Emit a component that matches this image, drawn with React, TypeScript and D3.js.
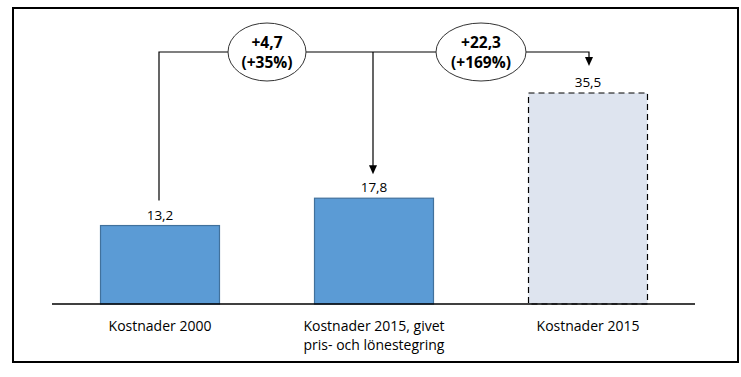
import React from "react";
import * as d3 from "d3";

const categories = ["Kostnader 2000", "Kostnader 2015, givet\npris- och lönestegring", "Kostnader 2015"];
const values = [13.2, 17.8, 35.5];
const valueLabels = ["13,2", "17,8", "35,5"];
const changeLabels = [["+4,7", "(+35%)"], ["+22,3", "(+169%)"]];

const W = 741;
const H = 377;

export default function App() {
  const x = d3.scaleBand<string>().domain(categories).range([53, 695]).paddingInner(0.444).paddingOuter(0.222);
  const y = d3.scaleLinear().domain([0, 35.5]).range([304, 93]);
  const cx = (i: number) => (x(categories[i]) as number) + x.bandwidth() / 2;
  const lineY = 52;
  const font = "'Open Sans', sans-serif";

  const c0 = cx(0) - 1, c1 = cx(1) - 1, c2 = cx(2) + 1;
  const tip1 = y(values[1]) - 24;
  const tip2 = y(values[2]) - 27;
  const start0 = y(values[0]) - 25;
  const ell = [
    { cx: 267, rx: 39 },
    { cx: 481, rx: 45 },
  ];

  return (
    <svg width={W} height={H} style={{ position: "absolute", left: 0, top: 0, background: "#fff" }} fontFamily={font}>
      <rect x={13} y={8} width={725} height={354} fill="#fff" stroke="#000" strokeWidth={2} />
      {values.map((v, i) => (
        <rect
          key={i}
          x={x(categories[i]) as number}
          y={y(v)}
          width={x.bandwidth()}
          height={y(0) - y(v)}
          fill={i < 2 ? "#5B9BD5" : "#DEE4EF"}
          stroke={i < 2 ? "#41719C" : "#000"}
          strokeWidth={1.2}
          strokeDasharray={i < 2 ? undefined : "6,4"}
        />
      ))}
      <line x1={52} x2={695} y1={y(0)} y2={y(0)} stroke="#000" strokeWidth={1.5} />
      {values.map((v, i) => (
        <text key={i} x={cx(i)} y={y(v) - 6} textAnchor="middle" fontSize={13.5} fill="#000">
          {valueLabels[i]}
        </text>
      ))}
      {categories.map((c, i) =>
        c.split("\n").map((ln, j) => (
          <text key={i + "-" + j} x={cx(i)} y={331 + j * 19} textAnchor="middle" fontSize={14} fill="#000">
            {ln}
          </text>
        ))
      )}
      <path
        d={`M${c0},${start0} V${lineY} H${c1} V${tip1 - 8} M${c1},${lineY} H${c2} V${tip2 - 8}`}
        fill="none"
        stroke="#000"
        strokeWidth={1.2}
      />
      <path d={`M${c1 - 4},${tip1 - 9} L${c1 + 4},${tip1 - 9} L${c1},${tip1} Z`} fill="#000" />
      <path d={`M${c2 - 4},${tip2 - 9} L${c2 + 4},${tip2 - 9} L${c2},${tip2} Z`} fill="#000" />
      {ell.map((e, i) => (
        <g key={i}>
          <ellipse cx={e.cx} cy={lineY} rx={e.rx} ry={29} fill="#fff" stroke="#333" strokeWidth={1} />
          <text x={e.cx} y={lineY - 4} textAnchor="middle" fontSize={15.5} fontWeight="bold" fill="#000">
            {changeLabels[i][0]}
          </text>
          <text x={e.cx} y={lineY + 16} textAnchor="middle" fontSize={15.5} fontWeight="bold" fill="#000">
            {changeLabels[i][1]}
          </text>
        </g>
      ))}
    </svg>
  );
}
